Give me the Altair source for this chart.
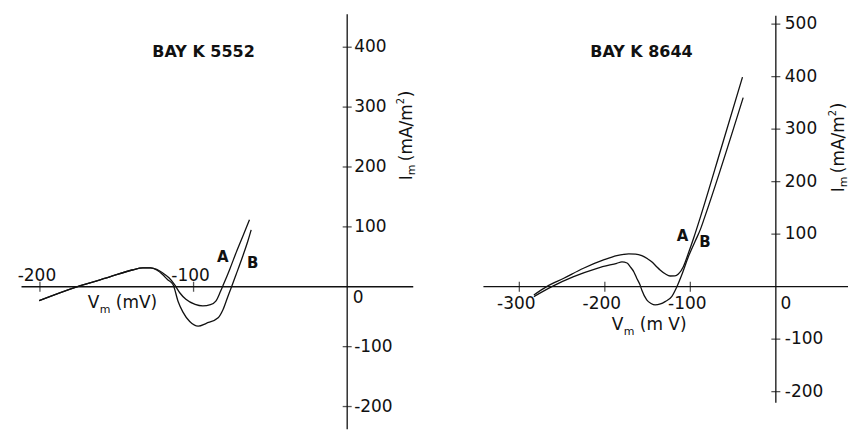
import altair as alt
import pandas as pd

# ---------------- data ----------------
# BAY K 5552: membrane current (mA/m^2) vs membrane potential (mV)
L_V_A = [-200.5, -176, -155, -140, -133, -128, -124, -120, -116, -112.5, -109, -105,
         -99, -94, -89, -85.5, -82.5, -80.5, -76.5, -72.3, -68, -63.6]
L_I_A = [-23, 0, 16, 28, 31.5, 31.5, 29, 23, 15, 4, -10, -21,
         -29.5, -32, -30, -24, -8, 4, 29, 57, 84, 112]
L_V_B = [-200.5, -176, -155, -140, -133, -128, -124, -120, -117, -113.4, -110, -107,
         -102.5, -97, -91.7, -84, -80.8, -77.6, -75.5, -72.3, -68, -64.7, -62.5]
L_I_B = [-23, 0, 16, 28, 31.5, 31.5, 28, 20, 12, 3.8, -25, -42,
         -58, -65.7, -61, -51.7, -37.8, -15.7, -1.7, 20.5, 51, 76, 95]

# BAY K 8644
R_V_A = [-283, -268, -248, -225, -201.5, -186, -172, -164, -156.8, -150, -145.2, -140,
         -135.4, -129, -123.7, -118, -114, -108.2, -102.3, -96, -88.7, -63.5, -39]
R_I_A = [-15.8, 0, 16, 35, 50.8, 59, 62.5, 62, 59, 53, 47.5, 39,
         31.7, 24, 20.3, 20.5, 24, 38, 63.5, 93, 130, 266, 399]
R_V_B = [-283, -262, -236.5, -209, -186, -180, -174, -170.4, -166, -162.7, -159, -156.8,
         -151, -146, -141.2, -135, -129.5, -121.8, -116, -110.1, -102.3, -94.5, -88, -83.7, -38.2]
R_I_B = [-19, 0, 19, 35, 44.5, 47, 45, 38, 28, 16, 4, -6.3,
         -25.3, -32, -34.8, -33, -28.5, -19, -1.1, 22.2, 57, 86, 110, 130, 360]

# axis ticks
L_XTICKS = [-200, -100]
L_YTICKS = [400, 300, 200, 100, -100, -200]
R_XTICKS = [-300, -200, -100]
R_YTICKS = [500, 400, 300, 200, 100, -100, -200]

TITLES = ["BAY K 5552", "BAY K 8644"]

INK = "#111111"
FONT = "DejaVu Sans"
TICK_FONT = 17


def panel(title, va, ia, vb, ib, xticks, yticks, xdom, ydom, xline, yline,
          title_pos, xlab_below, xlab_dx, zero_off, ylab_dx,
          vlab_pos, vlab_parts, ilab_pos, a_pos, b_pos):
    xs = alt.Scale(domain=xdom, nice=False, zero=False)
    ys = alt.Scale(domain=ydom, nice=False, zero=False)

    def X(f="x"):
        return alt.X(f"{f}:Q", scale=xs, axis=None)

    def Y(f="y"):
        return alt.Y(f"{f}:Q", scale=ys, axis=None)

    # axis lines crossing at the origin
    axes_df = pd.DataFrame({
        "x": [xline[0], 0], "x2": [xline[1], 0],
        "y": [0, yline[0]], "y2": [0, yline[1]],
    })
    axes = alt.Chart(axes_df).mark_rule(color=INK, strokeWidth=1.3).encode(
        x=X(), x2="x2:Q", y=Y(), y2="y2:Q")

    xt_df = pd.DataFrame({"x": xticks, "y": [0] * len(xticks),
                          "t": [str(v) for v in xticks]})
    yt_df = pd.DataFrame({"x": [0] * len(yticks), "y": yticks,
                          "t": [str(v) for v in yticks]})
    xt = alt.Chart(xt_df).mark_tick(orient="vertical", size=10, thickness=1.3,
                                     color=INK).encode(x=X(), y=Y())
    yt = alt.Chart(yt_df).mark_tick(orient="horizontal", size=9, thickness=1.3,
                                     color=INK).encode(x=X(), y=Y())

    xl = alt.Chart(xt_df).mark_text(font=FONT, fontSize=TICK_FONT, color=INK,
                                     align="center", baseline="middle",
                                     dx=xlab_dx, dy=17 if xlab_below else -11).encode(
        x=X(), y=Y(), text="t:N")
    yl = alt.Chart(yt_df).mark_text(font=FONT, fontSize=TICK_FONT, color=INK,
                                     align="left", baseline="middle",
                                     dx=ylab_dx).encode(x=X(), y=Y(), text="t:N")
    zero = alt.Chart(pd.DataFrame({"x": [0], "y": [0], "t": ["0"]})).mark_text(
        font=FONT, fontSize=TICK_FONT, color=INK, align="center", baseline="middle",
        dx=zero_off[0], dy=zero_off[1]).encode(x=X(), y=Y(), text="t:N")

    # current-voltage curves
    curves_df = pd.concat([
        pd.DataFrame({"x": va, "y": ia, "curve": "A", "i": range(len(va))}),
        pd.DataFrame({"x": vb, "y": ib, "curve": "B", "i": range(len(vb))}),
    ])
    curves = alt.Chart(curves_df).mark_line(
        color=INK, strokeWidth=1.3, interpolate="monotone").encode(
        x=X(), y=Y(), detail="curve:N", order="i:Q")

    ab_df = pd.DataFrame({"x": [a_pos[0], b_pos[0]], "y": [a_pos[1], b_pos[1]],
                          "t": ["A", "B"]})
    ab = alt.Chart(ab_df).mark_text(font=FONT, fontSize=15, fontWeight="bold",
                                     color=INK, align="center",
                                     baseline="middle").encode(x=X(), y=Y(), text="t:N")

    ttl = alt.Chart(pd.DataFrame({"x": [title_pos[0]], "y": [title_pos[1]],
                                  "t": [title]})).mark_text(
        font=FONT, fontSize=16, fontWeight="bold", color=INK,
        align="center", baseline="middle").encode(x=X(), y=Y(), text="t:N")

    # "Vm (mV)" axis title, built from pieces for the subscript
    vparts = []
    for txt, size, dx, dy in vlab_parts:
        vparts.append(alt.Chart(pd.DataFrame({"x": [vlab_pos[0]], "y": [vlab_pos[1]],
                                              "t": [txt]})).mark_text(
            font=FONT, fontSize=size, color=INK, align="left", baseline="middle",
            dx=dx, dy=dy).encode(x=X(), y=Y(), text="t:N"))

    # "Im (mA/m2)" axis title, rotated, reading upward
    iparts = []
    for txt, size, dx, dy in [("I", 17, 0, 0), ("m", 11, 5, 5), ("(mA/m", 17, 19, 0),
                              ("2", 10, 76, -6), (")", 17, 83, 0)]:
        iparts.append(alt.Chart(pd.DataFrame({"x": [ilab_pos[0]], "y": [ilab_pos[1]],
                                              "t": [txt]})).mark_text(
            font=FONT, fontSize=size, color=INK, align="left", baseline="middle",
            angle=270, dx=dx, dy=dy).encode(x=X(), y=Y(), text="t:N"))

    return alt.layer(axes, xt, yt, xl, yl, zero, curves, ab, ttl, *vparts, *iparts).properties(
        width=425, height=431)


left = panel(
    TITLES[0], L_V_A, L_I_A, L_V_B, L_I_B, L_XTICKS, L_YTICKS,
    xdom=[-226, 50], ydom=[-240, 478],
    xline=[-212, 43], yline=[-238, 455],
    title_pos=(-93.5, 392), xlab_below=False, xlab_dx=-3, zero_off=(11, 11), ylab_dx=7,
    vlab_pos=(-168.8, 0),
    vlab_parts=[("V", 17, 0, 16), ("m", 11, 12, 23), ("(mV)", 17, 28, 16)],
    ilab_pos=(39, 178), a_pos=(-81, 49), b_pos=(-61.5, 40),
)

right = panel(
    TITLES[1], R_V_A, R_I_A, R_V_B, R_I_B, R_XTICKS, R_YTICKS,
    xdom=[-411.5, 84.4], ydom=[-274, 545],
    xline=[-342, 84.4], yline=[-221, 516],
    title_pos=(-157.2, 446), xlab_below=True, xlab_dx=-3, zero_off=(10, 17), ylab_dx=9,
    vlab_pos=(-191.8, 0),
    vlab_parts=[("V", 17, 0, 38), ("m", 11, 12, 45), ("(m V)", 17, 28, 38)],
    ilab_pos=(74, 180), a_pos=(-109, 97), b_pos=(-82.8, 85.5),
)

chart = alt.hconcat(left, right, spacing=0).properties(padding=0).configure_view(
    stroke=None)

chart.save("out.html", embed_options={"renderer": "svg", "actions": False})
